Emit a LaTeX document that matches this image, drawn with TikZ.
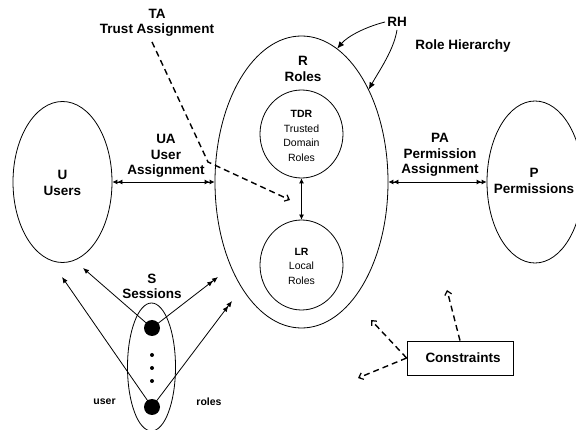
\documentclass[tikz,border=0pt]{standalone}
\usepackage{fontspec}
\setmainfont{Liberation Sans}
\usetikzlibrary{arrows.meta,shapes.geometric}
\begin{document}
\begin{tikzpicture}[x=1pt,y=-1pt,
  lbl/.style={font=\fontsize{13.5}{15.4}\selectfont\bfseries, align=center, inner sep=0pt},
  small/.style={font=\fontsize{10.5}{14.5}\selectfont, align=center, inner sep=0pt},
  tiny/.style={font=\fontsize{10.5}{12}\selectfont\bfseries, inner sep=0pt},
  setshape/.style={draw, ellipse, line width=0.8pt, inner sep=0pt},
  conn/.style={line width=0.8pt},
  dsh/.style={line width=1.4pt, dash pattern=on 6pt off 4pt},
  dbl/.style={{Latex[length=5pt,width=5pt]Latex[length=5pt,width=5pt]}-{Latex[length=5pt,width=5pt]Latex[length=5pt,width=5pt]}},
  stip/.style={-{Latex[length=6pt,width=5pt]}},
  mtip/.style={-{Latex[length=6pt,width=5pt]Latex[length=6pt,width=5pt]}},
  otip/.style={-{Straight Barb[length=4pt,width=7pt,line width=1.2pt]}},
  dot/.style={circle, fill, inner sep=0pt, minimum size=16pt},
  pt/.style={circle, fill, inner sep=0pt, minimum size=4pt}
]
\useasboundingbox (0,0) rectangle (576,430);

% the three main sets
\node[setshape, minimum width=99pt, minimum height=161pt] (U) at (62.5,182) {};
\node[lbl] at (62.5,183) {U\\Users};
\node[setshape, minimum width=173pt, minimum height=292pt] (R) at (301.5,182) {};
\node[lbl] (rlbl) at (303,69) {R\\Roles};
\node[setshape, minimum width=96pt, minimum height=162pt] (P) at (535,182) {};
\node[lbl] at (534,181) {P\\Permissions};

% role subsets
\node[setshape, minimum width=83pt, minimum height=88pt] (TDR) at (301.5,134) {};
\node[small] at (301.5,136) {\textbf{TDR}\\Trusted\\Domain\\Roles};
\node[setshape, minimum width=83pt, minimum height=90pt] (LR) at (301.5,265) {};
\node[small] at (301.5,266) {\textbf{LR}\\Local\\Roles};
\draw[conn, {Latex[length=5pt,width=5pt]}-{Latex[length=5pt,width=5pt]}] (TDR.south) -- (LR.north);

% assignments
\draw[conn, dbl] (U.east) -- (R.west);
\node[lbl] (ua) at (166,156) {UA\\User\\Assignment};
\draw[conn, dbl] (R.east) -- (P.west);
\node[lbl] (pa) at (440,155) {PA\\Permission\\Assignment};

% trust assignment (shifts are in page units: negative yshift moves down)
\node[lbl] (ta) at (157,23) {TA\\Trust Assignment};
\coordinate (tabend) at (208,162);
\coordinate (tatip) at (290,200);
\draw[dsh, otip] ([xshift=-5pt,yshift=-5pt]ta.south) -- (tabend) -- (tatip);

% role hierarchy
\node[lbl] (rh) at (397,22) {RH};
\node[lbl] (rhtext) at (463,46) {Role Hierarchy};
\draw[conn, -{Latex[length=7pt,width=6pt]}] ([xshift=-2pt]rh.west) .. controls +(-20,5) and +(10,-12) .. (R.75);
\draw[conn, -{Latex[length=7pt,width=6pt]}] ([yshift=-3pt]rh.south) .. controls +(-3,20) and +(10,-18) .. (R.54);

% sessions
\node[setshape, minimum width=48pt, minimum height=128pt] (S) at (151.5,367) {};
\node[lbl] (slbl) at (152,286.5) {S\\Sessions};
\node[dot] (s1) at (152,328) {};
\node[dot] (s2) at (152,407) {};
\node[pt] (d1) at (152,355) {};
\node[pt] (d2) at (152,368) {};
\node[pt] (d3) at (152,381) {};
\coordinate (u1) at (83,268);
\coordinate (u2) at (62,277);
\coordinate (r1) at (218,277);
\coordinate (r2) at (232,301);
\draw[conn, stip] (s1.center) -- (u1);
\draw[conn, stip] (s2.center) -- (u2);
\draw[conn, mtip] (s1.center) -- (r1);
\draw[conn, mtip] (s2.center) -- (r2);
\node[tiny] (userlbl) at (104.5,402) {user};
\node[tiny] (roleslbl) at (209,402) {roles};

% constraints
\node[draw, line width=0.8pt, minimum width=106pt, minimum height=34pt, inner sep=0pt,
      font=\fontsize{13.5}{15.4}\selectfont\bfseries] (cons) at (460,358) {\hspace*{6pt}Constraints};
\coordinate (c1) at (447,290);
\coordinate (c2) at (371,320);
\coordinate (c3) at (358,378);
\draw[dsh, otip] (cons.north) -- (c1);
\draw[dsh, otip] (cons.west) -- (c2);
\draw[dsh, otip] (cons.west) -- (c3);
\end{tikzpicture}
\end{document}
